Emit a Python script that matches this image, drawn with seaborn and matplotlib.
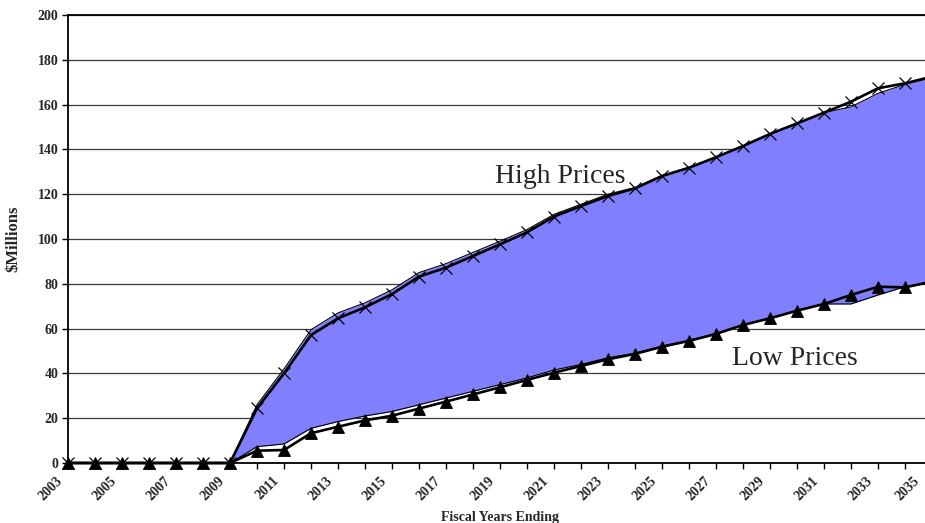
import matplotlib
matplotlib.use("Agg")
import matplotlib.pyplot as plt
from matplotlib.transforms import ScaledTranslation
import pandas as pd
import seaborn as sns

# Fiscal years on the x axis
years = list(range(2003, 2036))
label_years = years[::2]

# Revenue projections, $ millions
high_prices = [0, 0, 0, 0, 0, 0, 0,
               24.4, 40.0, 57.1, 64.6, 69.5, 75.4, 83.2, 87.2, 92.4, 97.6,
               103.0, 110.0, 114.7, 119.2, 122.6, 128.1, 131.8, 136.5, 141.5,
               146.9, 151.6, 156.4, 161.3, 167.3, 169.5, 172.5]
low_prices = [0, 0, 0, 0, 0, 0, 0,
              5.5, 5.8, 13.3, 16.2, 19.0, 21.1, 24.3, 27.4, 30.6, 33.8,
              37.1, 40.3, 43.3, 46.3, 48.7, 51.9, 54.5, 57.6, 61.6,
              64.6, 68.0, 71.0, 75.0, 78.7, 78.4, 81.0]

# Shaded range between the two cases
band_top = [0, 0, 0, 0, 0, 0, 0,
            26.0, 42.0, 59.5, 67.0, 71.5, 77.3, 85.0, 89.0, 94.0, 99.0,
            104.2, 111.0, 115.5, 120.0, 123.0, 128.4, 132.0, 136.6, 141.6,
            147.0, 151.7, 156.4, 159.0, 165.0, 169.0, 172.0]
band_bottom = [0, 0, 0, 0, 0, 0, 0,
               7.3, 8.5, 15.5, 18.5, 21.0, 23.0, 26.0, 29.0, 32.0, 35.0,
               38.0, 41.5, 44.0, 47.0, 49.0, 52.2, 54.7, 57.8, 61.7,
               64.7, 68.0, 71.0, 71.0, 75.0, 78.7, 81.0]

df = pd.DataFrame({
    "year": years,
    "High Prices": high_prices,
    "Low Prices": low_prices,
    "band_top": band_top,
    "band_bottom": band_bottom,
})

sns.set_style("ticks")
plt.rcParams["font.family"] = ["Liberation Serif", "DejaVu Serif"]

fig = plt.figure(figsize=(9.25, 5.23), dpi=100)
ax = fig.add_axes([68 / 925, 60 / 523, 864 / 925, 448 / 523])

# range band
ax.fill_between(df["year"], df["band_bottom"], df["band_top"],
                color="#8080FF", lw=0, zorder=1)
for col in ["band_top", "band_bottom"]:
    sns.lineplot(data=df, x="year", y=col, color="black", lw=0.8,
                 ax=ax, zorder=2)

# the two price cases
sns.lineplot(data=df, x="year", y="High Prices", color="black", lw=1.9,
             marker="x", markersize=9, markeredgewidth=0.9,
             markeredgecolor="black", ax=ax, zorder=4, clip_on=False)
sns.lineplot(data=df, x="year", y="Low Prices", color="black", lw=1.9,
             marker="^", markersize=9, markeredgewidth=0.6,
             markerfacecolor="black", markeredgecolor="black",
             ax=ax, zorder=4, clip_on=False)

ax.text(2018.8, 125, "High Prices", fontsize=20, ha="left", va="baseline",
        zorder=5)
ax.text(2027.6, 43.75, "Low Prices", fontsize=20, ha="left", va="baseline",
        zorder=5)

# axes, grid and ticks
ax.set_xlim(2003, 2035)
ax.set_ylim(0, 200)
ax.set_yticks(range(0, 201, 20))
ax.set_xticks(years)
ax.set_xticklabels([str(y) if y in label_years else "" for y in years],
                   rotation=45, ha="right", rotation_mode="anchor")
ax.grid(axis="y", color="#3a3a3a", lw=0.9, zorder=0)
ax.set_axisbelow(True)
ax.tick_params(axis="both", direction="out", length=4, width=1,
               color="black", labelsize=10)
ax.tick_params(axis="x", pad=4)
ax.tick_params(axis="y", pad=3)
for lab in ax.get_xticklabels() + ax.get_yticklabels():
    lab.set_fontweight("bold")
shift = ScaledTranslation(-12 / 100, 0, fig.dpi_scale_trans)
last_shift = ScaledTranslation(-19 / 100, 0, fig.dpi_scale_trans)
xlabels = ax.get_xticklabels()
for lab in xlabels[:-1]:
    lab.set_transform(lab.get_transform() + shift)
xlabels[-1].set_transform(xlabels[-1].get_transform() + last_shift)

for side in ["left", "bottom", "top"]:
    ax.spines[side].set_color("black")
    ax.spines[side].set_linewidth(1.3)
ax.spines["right"].set_visible(False)

ax.set_xlabel("Fiscal Years Ending", fontsize=10, fontweight="bold")
ax.xaxis.set_label_coords(0.5, -0.107)
ax.set_ylabel(r"\$Millions", fontsize=12, fontweight="bold")
ax.yaxis.set_label_coords(-0.054, 0.5)

fig.savefig("out.png", dpi=100)
